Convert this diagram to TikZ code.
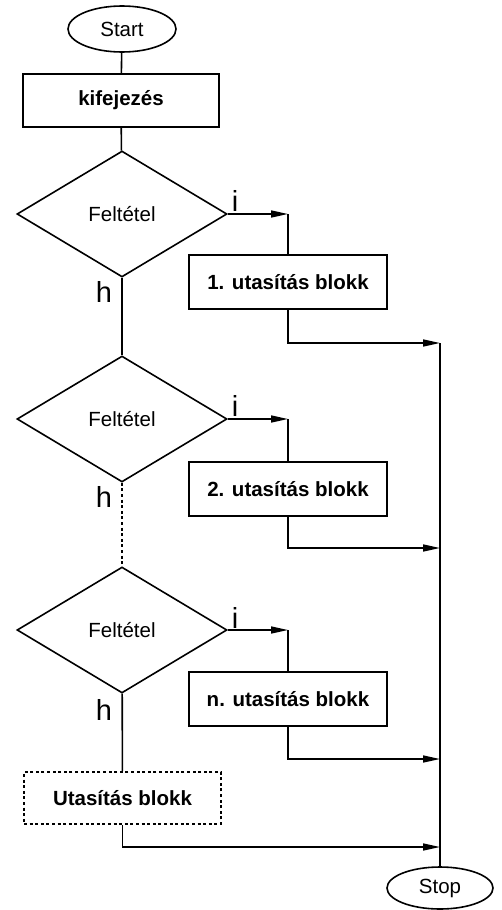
\documentclass[tikz,border=0pt]{standalone}
\usepackage{fontspec}
\setmainfont{Liberation Sans}
\usetikzlibrary{shapes.geometric,arrows.meta}
\begin{document}
\begin{tikzpicture}[x=1pt,y=-1pt,line width=1.6pt,
  txt/.style={font=\fontsize{20.5}{24}\selectfont},
  btxt/.style={font=\fontsize{20.5}{24}\selectfont\bfseries},
  lbl/.style={font=\fontsize{29}{33}\selectfont,anchor=base,inner sep=0pt},
  term/.style={ellipse,draw,inner sep=0pt,txt},
  blockbox/.style={rectangle,draw,inner sep=0pt,minimum width=198pt,minimum height=54pt,btxt},
  cond/.style={diamond,draw,inner sep=0pt,minimum width=210pt,minimum height=126pt,txt},
  arr/.style={-{Triangle[length=17pt,width=7pt]}}]
\useasboundingbox (0,0) rectangle (502,910);
% nodes
\node[term,minimum width=108pt,minimum height=46pt] (start) at (122,29) {Start};
\node[blockbox,minimum width=196pt,minimum height=53pt] (kif) at (121,100.5) {kifejezés};
\node[cond] (d1) at (122,214) {Feltétel};
\node[cond] (d2) at (122,419) {Feltétel};
\node[cond] (d3) at (122,630) {Feltétel};
\node[blockbox] (b1) at (288,282) {1. utasítás blokk};
\node[blockbox] (b2) at (288,489) {2. utasítás blokk};
\node[blockbox] (b3) at (288,699) {n. utasítás blokk};
\node[blockbox,minimum width=197pt,minimum height=52pt,dash pattern=on 3pt off 2.6pt] (ub) at (122.5,798) {Utasítás blokk};
\node[term,minimum width=106pt,minimum height=42pt] (stop) at (440,888) {Stop};
% labels
\node[lbl] (i1) at (235,211) {i};
\node[lbl] (i2) at (235,416) {i};
\node[lbl] (i3) at (235,628) {i};
\node[lbl] (h1) at (104,302) {h};
\node[lbl] (h2) at (104,507) {h};
\node[lbl] (h3) at (104,720) {h};
% coordinates
\coordinate (c1) at (b1.north |- d1.east);
\coordinate (c2) at (b2.north |- d2.east);
\coordinate (c3) at (b3.north |- d3.east);
\coordinate (m1) at (440,343);
\coordinate (m2) at (440,548);
\coordinate (m3) at (440,759);
\coordinate (m4) at (440,847);
% connectors
\draw (start) -- (kif);
\draw (kif) -- (d1);
\draw (d1) -- (d2);
\draw[dash pattern=on 3pt off 2.6pt] (d2) -- (d3);
\draw (d3) -- (ub);
\draw[arr] (d1.east) -- (c1);
\draw[arr] (d2.east) -- (c2);
\draw[arr] (d3.east) -- (c3);
\draw (c1) -- (b1.north);
\draw (c2) -- (b2.north);
\draw (c3) -- (b3.north);
\draw[arr] (b1.south) |- (m1);
\draw[arr] (b2.south) |- (m2);
\draw[arr] (b3.south) |- (m3);
\draw[arr] (ub.south) |- (m4);
\draw (m1) -- (stop.north);
\end{tikzpicture}
\end{document}
